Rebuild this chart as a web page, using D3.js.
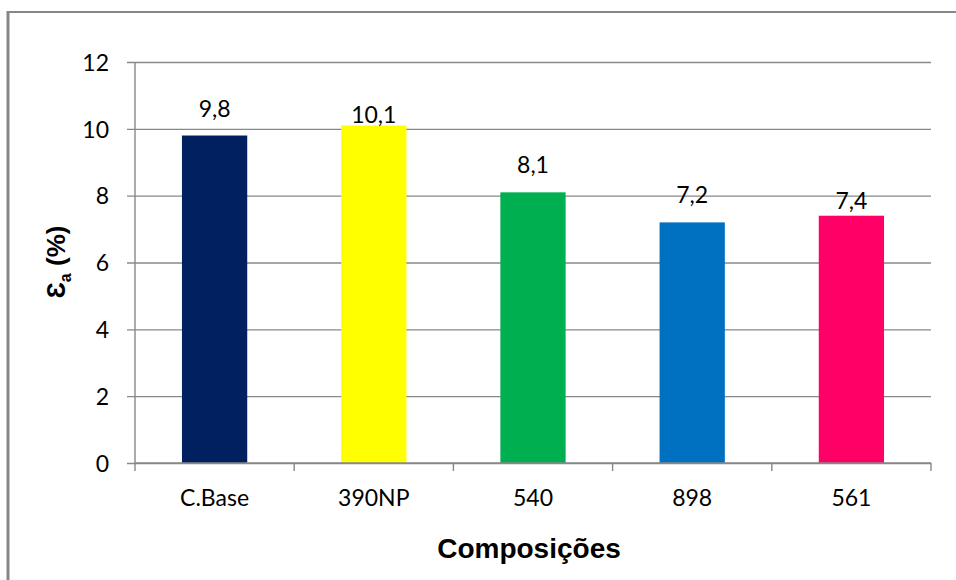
<!DOCTYPE html>
<html>
<head>
<meta charset="utf-8">
<script src="https://cdn.jsdelivr.net/npm/d3@7"></script>
<style>
  html, body { margin: 0; padding: 0; background: #fff; }
  svg { display: block; }
</style>
</head>
<body>
<svg id="chart" width="956" height="580"></svg>
<script>
// Composições vs. εa (%)
const categories = ["C.Base", "390NP", "540", "898", "561"];
const values = [9.8, 10.1, 8.1, 7.2, 7.4];
const valueLabels = ["9,8", "10,1", "8,1", "7,2", "7,4"];
const barColors = ["#002060", "#FFFF00", "#00B050", "#0070C0", "#FF0066"];
const yTicks = [0, 2, 4, 6, 8, 10, 12];

// distance (px) between bar top and its label baseline
const labelGap = [19, 2, 19, 19, 7];

const svg = d3.select("#chart");
const W = 956, H = 580;
const plot = { left: 135, right: 931, top: 62, bottom: 463 };

const labelFont = "Lato, 'Liberation Sans', Arial, sans-serif";
const titleFont = "'Liberation Sans', Arial, sans-serif";

// outer chart frame
svg.append("rect")
  .attr("x", 8).attr("y", 12)
  .attr("width", W + 20).attr("height", H + 20)
  .attr("fill", "#fff")
  .attr("stroke", "#878787")
  .attr("stroke-width", 2);
svg.append("line")
  .attr("x1", 8).attr("x2", 8).attr("y1", 11).attr("y2", H)
  .attr("stroke", "#878787").attr("stroke-width", 3);

const x = d3.scaleBand()
  .domain(categories)
  .range([plot.left, plot.right])
  .padding(0);

const xBar = d3.scaleBand()
  .domain(categories)
  .range([plot.left, plot.right])
  .paddingInner(0.59)
  .paddingOuter(0.295);

const y = d3.scaleLinear()
  .domain([0, 12])
  .range([plot.bottom, plot.top]);

// horizontal gridlines (extend left as tick marks)
const yAxis = d3.axisLeft(y)
  .tickValues(yTicks)
  .tickSize(-(plot.right - plot.left))
  .tickSizeOuter(0)
  .tickFormat(d => d);

const gy = svg.append("g")
  .attr("transform", `translate(${plot.left},0)`)
  .call(yAxis);
gy.select(".domain").remove();
gy.selectAll(".tick line")
  .attr("x1", -8)
  .attr("stroke", "#888")
  .attr("stroke-width", 1.4);
gy.selectAll(".tick text")
  .attr("x", -26)
  .attr("dy", "0.36em")
  .attr("fill", "#000")
  .style("font-family", labelFont)
  .style("font-size", "23px");

// vertical axis line
svg.append("line")
  .attr("x1", plot.left).attr("x2", plot.left)
  .attr("y1", plot.top).attr("y2", plot.bottom)
  .attr("stroke", "#888").attr("stroke-width", 1.4);

// bars
svg.append("g").selectAll("rect")
  .data(categories)
  .join("rect")
  .attr("x", d => xBar(d))
  .attr("width", xBar.bandwidth())
  .attr("y", (d, i) => y(values[i]))
  .attr("height", (d, i) => y(0) - y(values[i]))
  .attr("fill", (d, i) => barColors[i]);

// category axis with ticks at band boundaries
const gx = svg.append("g")
  .attr("transform", `translate(0,${plot.bottom})`);
gx.append("line")
  .attr("x1", plot.left).attr("x2", plot.right)
  .attr("stroke", "#888").attr("stroke-width", 1.4);
const bounds = categories.map(c => x(c)).concat([plot.right]);
gx.selectAll("line.tk")
  .data(bounds)
  .join("line")
  .attr("class", "tk")
  .attr("x1", d => d).attr("x2", d => d)
  .attr("y1", 0).attr("y2", 8)
  .attr("stroke", "#888").attr("stroke-width", 1.4);
gx.selectAll("text")
  .data(categories)
  .join("text")
  .attr("x", d => x(d) + x.bandwidth() / 2)
  .attr("y", 43)
  .attr("text-anchor", "middle")
  .style("font-family", labelFont)
  .style("font-size", "23px")
  .text(d => d);

// value labels
svg.append("g").selectAll("text")
  .data(categories)
  .join("text")
  .attr("x", d => x(d) + x.bandwidth() / 2)
  .attr("y", (d, i) => y(values[i]) - labelGap[i])
  .attr("text-anchor", "middle")
  .style("font-family", labelFont)
  .style("font-size", "23px")
  .text((d, i) => valueLabels[i]);

// axis titles
svg.append("text")
  .attr("x", 529)
  .attr("y", 558)
  .attr("text-anchor", "middle")
  .style("font-family", titleFont)
  .style("font-weight", "bold")
  .style("font-size", "28px")
  .text("Composições");

const yt = svg.append("text")
  .attr("transform", "translate(65,262) rotate(-90)")
  .attr("text-anchor", "middle")
  .style("font-family", titleFont)
  .style("font-weight", "bold")
  .style("font-size", "26px");
yt.append("tspan").text("Ɛ");
yt.append("tspan").attr("dy", 6).style("font-size", "16px").text("a");
yt.append("tspan").attr("dy", -6).text(" (%)");
</script>
</body>
</html>
